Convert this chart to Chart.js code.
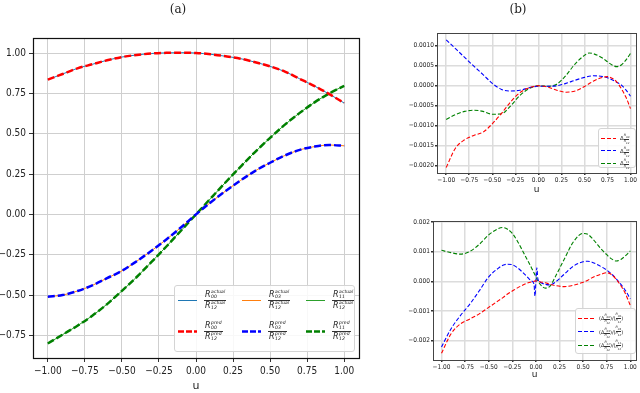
<!DOCTYPE html>
<html>
<head>
<meta charset="utf-8">
<script src="https://cdn.jsdelivr.net/npm/chart.js@4.4.0/dist/chart.umd.min.js"></script>
<style>
  html, body { margin: 0; padding: 0; background: #fff; }
  #wrap { position: relative; width: 640px; height: 393px; overflow: hidden; }
  canvas { position: absolute; }
  .ttl { position: absolute; top: 2px; font-family: 'DejaVu Serif', 'Liberation Serif', serif; font-size: 12px; color: #222; transform: translateX(-50%); }
  .leg { position: absolute; background: rgba(255,255,255,0.85); border: 1px solid #d4d4d4; border-radius: 3px; box-sizing: border-box; }
  .it { position: absolute; display: flex; align-items: center; font-family: 'DejaVu Sans', sans-serif; color: #222; font-style: italic; white-space: nowrap; }
  .it svg { display: block; }
  .fr { display: inline-flex; flex-direction: column; align-items: center; margin-left: 7px; }
  .fr > span { display: flex; align-items: center; padding: 0 1px; }
  .fr > span:first-child { border-bottom: 0.7px solid #333; }
  .R { font-size: 8px; line-height: 10px; }
  .ss { display: inline-flex; flex-direction: column; font-size: 4.6px; line-height: 4.8px; margin-left: 0.5px; }
  .dl { font-size: 5.5px; font-style: normal; display: flex; align-items: center; margin-left: 4px; }
  .sf { display: inline-flex; flex-direction: column; align-items: center; font-size: 3.2px; line-height: 3.4px; font-style: italic; margin-top: 3px; }
  .sf > span:first-child { border-bottom: 0.4px solid #333; }
  .bf { display: inline-flex; flex-direction: column; align-items: center; font-size: 3.2px; line-height: 3.4px; font-style: italic; }
  .bf > span:first-child { border-bottom: 0.4px solid #333; }
</style>
</head>
<body>
<div id="wrap">
  <canvas id="cA" width="362" height="393" style="left:0;top:0;width:362px;height:393px"></canvas>
  <canvas id="cB" width="265" height="200" style="left:375px;top:0;width:265px;height:200px"></canvas>
  <canvas id="cC" width="265" height="193" style="left:375px;top:200px;width:265px;height:193px"></canvas>
  <div class="ttl" style="left:178px">(a)</div>
  <div class="ttl" style="left:518px">(b)</div>
  <div class="leg" id="legA" style="left:174px;top:285px;width:181px;height:67px"></div>
  <div class="leg" id="legB" style="left:598px;top:128px;width:38px;height:40px"></div>
  <div class="leg" id="legC" style="left:575px;top:308px;width:61px;height:46px"></div>
</div>
<script>
// ---- (a) ratios R_xx / R_12 ----
const uA = [-1.0, -0.9, -0.8, -0.7, -0.6, -0.5, -0.4, -0.3, -0.2, -0.1, 0.0,
            0.1, 0.2, 0.3, 0.4, 0.5, 0.6, 0.7, 0.8, 0.9, 1.0];
const r00 = [0.835, 0.87, 0.905, 0.93, 0.955, 0.975, 0.988, 0.997, 1.001, 1.002, 1.0,
             0.992, 0.98, 0.965, 0.943, 0.917, 0.885, 0.84, 0.795, 0.745, 0.69];
const r03 = [-0.51, -0.50, -0.475, -0.44, -0.395, -0.35, -0.29, -0.225, -0.155, -0.08, 0.0,
             0.075, 0.145, 0.21, 0.27, 0.32, 0.365, 0.40, 0.42, 0.43, 0.425];
const r11 = [-0.80, -0.745, -0.69, -0.628, -0.556, -0.474, -0.388, -0.295, -0.199, -0.1, 0.0,
             0.1, 0.199, 0.295, 0.388, 0.474, 0.556, 0.629, 0.694, 0.75, 0.797];
// actual curves coincide with the predictions
const r00Actual = r00, r03Actual = r03, r11Actual = r11;
const yTicksA = [-0.75, -0.5, -0.25, 0, 0.25, 0.5, 0.75, 1.0];

// ---- (b) top: errors ----
const uB = [-1.0, -0.9, -0.8, -0.7, -0.6, -0.5, -0.4, -0.3, -0.2, -0.1, 0.0,
            0.1, 0.2, 0.3, 0.4, 0.5, 0.55, 0.6, 0.7, 0.75, 0.8, 0.85, 0.9, 0.95, 1.0];
const d00 = [-0.00204, -0.00156, -0.00135, -0.00124, -0.00116, -0.00095, -0.00069, -0.0004, -0.00017, -0.00005, 0,
             -0.00003, -0.00011, -0.00016, -0.00013, -0.00002, 0.00005, 0.00012, 0.00021, 0.00023, 0.00019, 0.0001, -0.00007, -0.00028, -0.00057];
const d03 = [0.00115, 0.00093, 0.00071, 0.00049, 0.00028, 0.00006, -0.00009, -0.00013, -0.00011, -0.00005, -0.00001,
             -0.00001, 0, 0.00006, 0.00014, 0.00021, 0.00024, 0.00025, 0.00023, 0.0002, 0.00015, 0.00009, 0.00002, -0.0001, -0.00026];
const d11 = [-0.00084, -0.00072, -0.00064, -0.00061, -0.00064, -0.00071, -0.0007, -0.0005, -0.00024, -0.00007, 0,
             -0.00001, 0.00004, 0.00026, 0.00055, 0.00076, 0.00082, 0.0008, 0.00069, 0.0006, 0.00052, 0.00048, 0.00052, 0.00064, 0.00081];
const yTicksB = [-0.002, -0.0015, -0.001, -0.0005, 0, 0.0005, 0.001];

// ---- (b) bottom: relative errors ----
const uC = [-1.0, -0.9, -0.8, -0.7, -0.6, -0.5, -0.4, -0.35, -0.3, -0.25, -0.2, -0.1, -0.05, -0.02, -0.01, 0.0,
            0.01, 0.02, 0.05, 0.1, 0.15, 0.2, 0.3, 0.4, 0.5, 0.55, 0.6, 0.7, 0.75, 0.8, 0.85, 0.9, 0.95, 1.0];
const e00 = [-0.00243, -0.00178, -0.00144, -0.00127, -0.0011, -0.00088, -0.00066, -0.00055, -0.00043, -0.00033, -0.00023, -0.00007, -0.00002, 0, 0.00001, 0.00002,
             0.00001, 0, -0.00002, -0.00005, -0.0001, -0.00014, -0.00018, -0.00013, -0.00003, 0.00004, 0.00013, 0.00025, 0.00029, 0.00023, 0.00007, -0.00015, -0.00043, -0.00082];
const e03 = [-0.00222, -0.00161, -0.00116, -0.00077, -0.00032, 0.00015, 0.00044, 0.00054, 0.00058, 0.00056, 0.00047, 0.00018, 0.00002, -0.0001, -0.0005, 0.0,
             0.00046, 0.0001, -0.00004, -0.0001, -0.00012, -0.00004, 0.00024, 0.00052, 0.00066, 0.00068, 0.00064, 0.00048, 0.00038, 0.00025, 0.00009, -0.0001, -0.00032, -0.0006];
const e11 = [0.00105, 0.00097, 0.00092, 0.00101, 0.00125, 0.00157, 0.00178, 0.00182, 0.00176, 0.00162, 0.00138, 0.00078, 0.00048, 0.00028, 0.00022, 0.00015,
             0.00008, 0.00002, -0.00012, -0.00023, -0.00016, 0.00012, 0.00075, 0.00135, 0.00162, 0.00159, 0.00144, 0.00106, 0.0009, 0.00076, 0.00069, 0.00074, 0.00087, 0.00103];
const yTicksC = [-0.002, -0.001, 0, 0.001, 0.002];

const xTicks = [-1.0, -0.75, -0.5, -0.25, 0, 0.25, 0.5, 0.75, 1.0];

const condensed = "'DejaVu Sans Condensed', 'DejaVu Sans', sans-serif";
const minus = s => s.replace('-', '\u2212');
const pts = (xs, ys) => xs.map((x, i) => ({ x: x, y: ys[i] }));

// box around the plot area (matplotlib spines)
const frame = {
  id: 'frame',
  afterDatasetsDraw(chart, args, o) {
    const a = chart.chartArea, c = chart.ctx;
    c.save();
    c.strokeStyle = o.color;
    c.lineWidth = o.width;
    c.strokeRect(Math.round(a.left) + 0.5, Math.round(a.top) + 0.5,
                 Math.round(a.right - a.left), Math.round(a.bottom - a.top));
    c.restore();
  }
};

function line(label, xs, ys, color, width, dash, order) {
  return {
    label: label, data: pts(xs, ys), borderColor: color, borderWidth: width,
    borderDash: dash, pointRadius: 0, fill: false, order: order,
    cubicInterpolationMode: 'monotone'
  };
}

function makeChart(id, datasets, s) {
  return new Chart(document.getElementById(id), {
    type: 'line',
    data: { datasets: datasets },
    plugins: [frame],
    options: {
      responsive: false,
      animation: false,
      events: [],
      layout: { padding: { top: s.top, right: s.right, bottom: s.bottom, left: 0 } },
      plugins: {
        legend: { display: false },
        tooltip: { enabled: false },
        frame: { color: s.frameColor, width: s.frameWidth }
      },
      scales: {
        x: {
          type: 'linear', min: s.xMin, max: s.xMax,
          afterBuildTicks: sc => { sc.ticks = xTicks.map(v => ({ value: v })); },
          afterFit: sc => { sc.height = s.xHeight; },
          grid: { color: s.gridColor, lineWidth: s.gridWidth, tickColor: '#333', tickLength: s.tickLen },
          border: { display: false },
          ticks: {
            font: { family: condensed, size: s.tickSize }, color: '#222', padding: s.tickPad,
            maxRotation: 0, autoSkip: false,
            callback: v => minus(v.toFixed(2))
          },
          title: { display: true, text: 'u', font: { family: "'DejaVu Sans', sans-serif", size: s.titleSize }, color: '#222', padding: 0 }
        },
        y: {
          min: s.yMin, max: s.yMax,
          afterBuildTicks: sc => { sc.ticks = s.yTicks.map(v => ({ value: v })); },
          afterFit: sc => { sc.width = s.yWidth; },
          grid: { color: s.gridColor, lineWidth: s.gridWidth, tickColor: '#333', tickLength: s.tickLen },
          border: { display: false },
          ticks: {
            font: { family: condensed, size: s.tickSize }, color: '#222', padding: s.tickPad,
            autoSkip: false,
            callback: v => minus(v.toFixed(s.dec))
          }
        }
      }
    }
  });
}

// (a)
makeChart('cA', [
  line('R00 actual', uA, r00Actual, '#1f77b4', 1, [], 2),
  line('R03 actual', uA, r03Actual, '#ff7f0e', 1, [], 2),
  line('R11 actual', uA, r11Actual, '#2ca02c', 1, [], 2),
  line('R00 pred', uA, r00, '#ff0000', 2.5, [7, 3], 1),
  line('R03 pred', uA, r03, '#0000ff', 2.5, [7, 3], 1),
  line('R11 pred', uA, r11, '#008000', 2.5, [7, 3], 1)
], {
  top: 38, right: 3, bottom: 0, xHeight: 35, yWidth: 33,
  xMin: -1.1, xMax: 1.1, yMin: -0.89, yMax: 1.093, yTicks: yTicksA, dec: 2,
  gridColor: '#cfcfcf', gridWidth: 1, tickLen: 4, tickPad: 3, tickSize: 10, titleSize: 11,
  frameColor: '#111', frameWidth: 1.2
});

// (b) top
makeChart('cB', [
  line('d00', uB, d00, '#ff0000', 1.1, [4, 2], 1),
  line('d03', uB, d03, '#0000ff', 1.1, [4, 2], 1),
  line('d11', uB, d11, '#008000', 1.1, [4, 2], 1)
], {
  top: 33, right: 4, bottom: 5, xHeight: 22, yWidth: 62,
  xMin: -1.1, xMax: 1.06, yMin: -0.00218, yMax: 0.00132, yTicks: yTicksB, dec: 4,
  gridColor: '#dcdcdc', gridWidth: 1.5, tickLen: 2, tickPad: 1, tickSize: 6.5, titleSize: 9,
  frameColor: '#444', frameWidth: 1
});

// (b) bottom
makeChart('cC', [
  line('e00', uC, e00, '#ff0000', 1.1, [4, 2], 1),
  line('e03', uC, e03, '#0000ff', 1.1, [4, 2], 1),
  line('e11', uC, e11, '#008000', 1.1, [4, 2], 1)
], {
  top: 21, right: 4, bottom: 13, xHeight: 20, yWidth: 58,
  xMin: -1.09, xMax: 1.06, yMin: -0.00266, yMax: 0.00204, yTicks: yTicksC, dec: 3,
  gridColor: '#dcdcdc', gridWidth: 1.5, tickLen: 2, tickPad: 1, tickSize: 6.5, titleSize: 9,
  frameColor: '#444', frameWidth: 1
});

// ---- legends (math labels as html) ----
function sample(color, w, lw, dash) {
  return `<svg width="${w}" height="5"><line x1="0" y1="2.5" x2="${w}" y2="2.5" stroke="${color}" stroke-width="${lw}" stroke-dasharray="${dash}"/></svg>`;
}
function rterm(sup, sub) {
  return `<span class="R">R</span><span class="ss"><span>${sup}</span><span>${sub}</span></span>`;
}
function ratio(sup, sub) {
  return `<span class="fr"><span>${rterm(sup, sub)}</span><span>${rterm(sup, '12')}</span></span>`;
}

const legA = document.getElementById('legA');
const colsA = [['00', '#1f77b4', '#ff0000'], ['03', '#ff7f0e', '#0000ff'], ['11', '#2ca02c', '#008000']];
colsA.forEach((c, i) => {
  const x = 3 + i * 64;
  legA.insertAdjacentHTML('beforeend',
    `<div class="it" style="left:${x}px;top:4px">${sample(c[1], 19, 1, 'none')}${ratio('actual', c[0])}</div>`);
  legA.insertAdjacentHTML('beforeend',
    `<div class="it" style="left:${x}px;top:35px">${sample(c[2], 19, 2.5, '6,2')}${ratio('pred', c[0])}</div>`);
});

const subs = [['00', '#ff0000'], ['03', '#0000ff'], ['11', '#008000']];
const legB = document.getElementById('legB');
subs.forEach((s, i) => {
  legB.insertAdjacentHTML('beforeend',
    `<div class="it" style="left:2px;top:${2 + i * 12.5}px">${sample(s[1], 15, 1.1, '4,2')}` +
    `<span class="dl">\u0394<span class="sf"><span>R<sub>${s[0]}</sub></span><span>R<sub>12</sub></span></span></span></div>`);
});

const legC = document.getElementById('legC');
subs.forEach((s, i) => {
  legC.insertAdjacentHTML('beforeend',
    `<div class="it" style="left:2px;top:${2 + i * 13.5}px">${sample(s[1], 18, 1.1, '4,2')}` +
    `<span class="dl" style="font-size:5px;margin-left:3px">(\u0394<span class="sf"><span>R<sub>${s[0]}</sub></span><span>R<sub>12</sub></span></span>)/(<span class="bf"><span>R<sub>${s[0]}</sub></span><span>R<sub>12</sub></span></span>)</span></div>`);
});
</script>
</body>
</html>
